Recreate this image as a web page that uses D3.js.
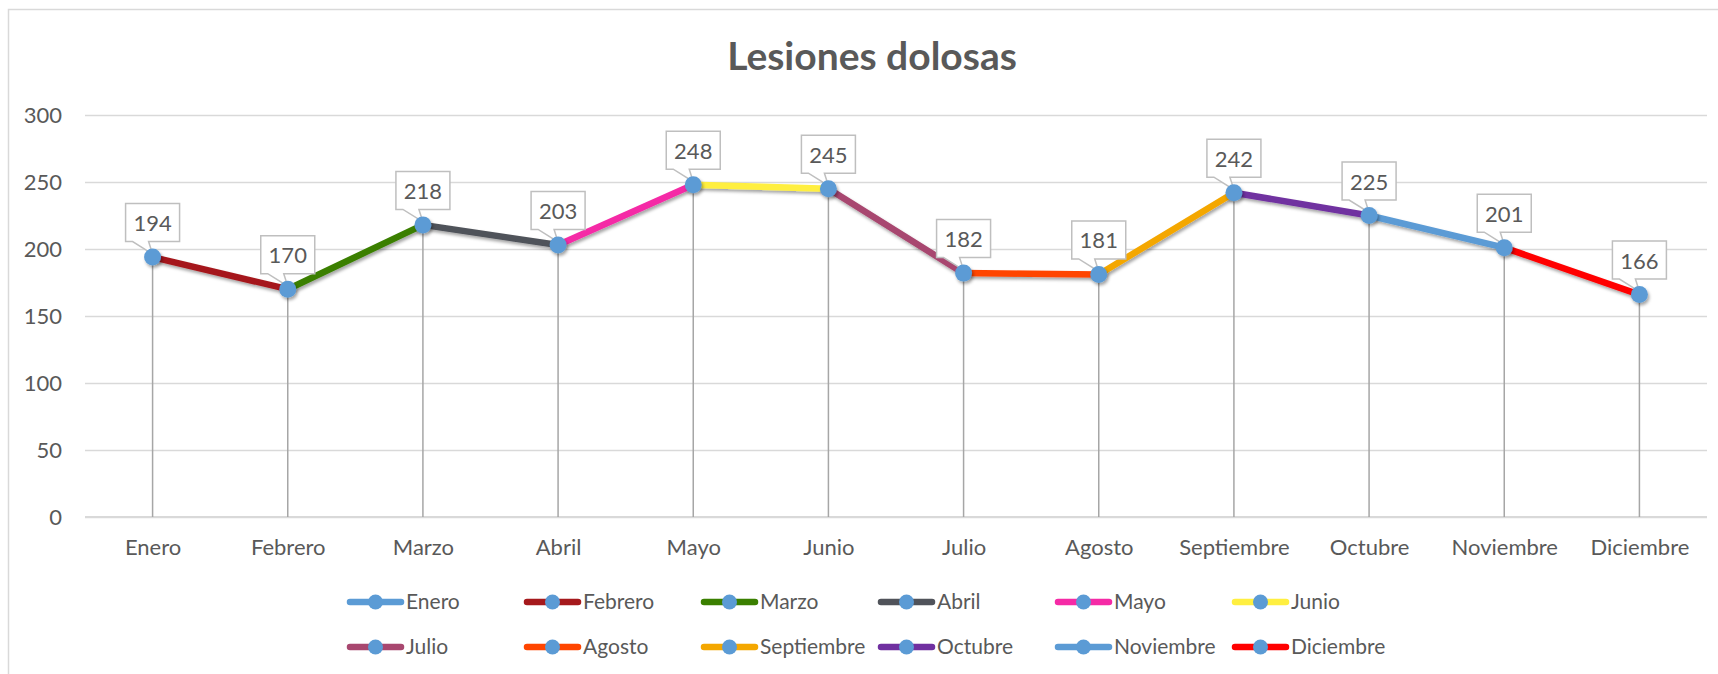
<!DOCTYPE html>
<html>
<head>
<meta charset="utf-8">
<script src="https://cdn.jsdelivr.net/npm/d3@7"></script>
<style>
    body { margin: 0; background: #fff; }
    text { font-family: Lato, "Noto Sans", sans-serif; fill: #595959; }
</style>
</head>
<body>
<div id="chart"></div>
<script>
var months = ["Enero", "Febrero", "Marzo", "Abril", "Mayo", "Junio",
    "Julio", "Agosto", "Septiembre", "Octubre", "Noviembre", "Diciembre"];
var values = [194, 170, 218, 203, 248, 245, 182, 181, 242, 225, 201, 166];
var seriesColors = ["#5B9BD5", "#A5191C", "#3A7F00", "#50535A", "#F52AA6", "#FFEF40",
    "#A8476F", "#FF4500", "#F4A700", "#7030A0", "#5B9BD5", "#FF0000"];
var yTicks = [0, 50, 100, 150, 200, 250, 300];
var chartTitle = "Lesiones dolosas";

var svgWidth = 1718;
var svgHeight = 674;

var margin = {
    top: 115,
    right: 11,
    bottom: 157,
    left: 85
};

var width = svgWidth - margin.left - margin.right;
var height = svgHeight - margin.top - margin.bottom;

var markerColor = "#5B9BD5";

var svg = d3.select("#chart")
    .append("svg")
    .attr("width", svgWidth)
    .attr("height", svgHeight);

var defs = svg.append("defs");
var shadow = defs.append("filter")
    .attr("id", "shadow")
    .attr("x", "-20%").attr("y", "-20%")
    .attr("width", "140%").attr("height", "160%");
shadow.append("feDropShadow")
    .attr("dx", 1.5)
    .attr("dy", 2.5)
    .attr("stdDeviation", 1.8)
    .attr("flood-color", "#000")
    .attr("flood-opacity", 0.35);

// outer chart border (only left and top visible in the picture)
svg.append("rect")
    .attr("x", 8.5)
    .attr("y", 9.5)
    .attr("width", 1760)
    .attr("height", 720)
    .attr("fill", "none")
    .attr("stroke", "#D9D9D9")
    .attr("stroke-width", 1.5);

svg.append("text")
    .attr("x", 872)
    .attr("y", 70)
    .attr("text-anchor", "middle")
    .attr("font-size", "39px")
    .attr("font-weight", "bold")
    .text(chartTitle);

var chartGroup = svg.append("g")
    .attr("transform", `translate(${margin.left}, ${margin.top})`);

var xScale = d3.scalePoint()
    .domain(months)
    .range([0, width])
    .padding(0.5);

var yScale = d3.scaleLinear()
    .domain([0, 300])
    .range([height, 0]);

var leftAxis = d3.axisLeft(yScale)
    .tickValues(yTicks)
    .tickSize(-width)
    .tickPadding(23);

var yAxis = chartGroup.append("g")
    .call(leftAxis);
yAxis.select(".domain").remove();
yAxis.selectAll("line")
    .attr("stroke", "#D9D9D9")
    .attr("stroke-width", 1.5);
yAxis.selectAll("text")
    .attr("font-size", "22px")
    .attr("fill", "#595959");

var bottomAxis = d3.axisBottom(xScale)
    .tickSize(0)
    .tickPadding(22);

var xAxis = chartGroup.append("g")
    .attr("transform", `translate(0, ${height})`)
    .call(bottomAxis);
xAxis.select(".domain")
    .attr("stroke", "#D9D9D9")
    .attr("stroke-width", 2)
    .attr("d", `M0,0H${width}`);
xAxis.selectAll("text")
    .attr("font-size", "22px")
    .attr("fill", "#595959");

var points = months.map(function (m, i) {
    return { month: m, value: values[i], color: seriesColors[i], prev: i > 0 ? i - 1 : null };
});

// drop lines
chartGroup.selectAll(".drop")
    .data(points)
    .enter()
    .append("line")
    .attr("class", "drop")
    .attr("x1", d => xScale(d.month))
    .attr("x2", d => xScale(d.month))
    .attr("y1", d => yScale(d.value))
    .attr("y2", height)
    .attr("stroke", "#A6A6A6")
    .attr("stroke-width", 1.5);

// each month's series draws the segment arriving at it
var segments = points.filter(d => d.prev !== null);

chartGroup.append("g")
    .attr("filter", "url(#shadow)")
    .selectAll(".seg")
    .data(segments)
    .enter()
    .append("line")
    .attr("class", "seg")
    .attr("x1", d => xScale(months[d.prev]))
    .attr("y1", d => yScale(values[d.prev]))
    .attr("x2", d => xScale(d.month))
    .attr("y2", d => yScale(d.value))
    .attr("stroke", d => d.color)
    .attr("stroke-width", 6.5)
    .attr("stroke-linecap", "round");

// data labels with callout
var boxW = 54;
var boxH = 38;
var boxGap = 15.5;

var labels = chartGroup.selectAll(".lbl")
    .data(points)
    .enter()
    .append("g")
    .attr("class", "lbl");

labels.append("path")
    .attr("d", function (d) {
        var cx = xScale(d.month);
        var cy = yScale(d.value);
        var left = cx - boxW / 2;
        var right = cx + boxW / 2;
        var bottom = cy - boxGap;
        var top = bottom - boxH;
        return `M${left},${top}H${right}V${bottom}H${left + 23}L${cx},${cy - 3}L${left + 7},${bottom}H${left}Z`;
    })
    .attr("fill", "#fff")
    .attr("stroke", "#BFBFBF")
    .attr("stroke-width", 1.5);

labels.append("text")
    .attr("x", d => xScale(d.month))
    .attr("y", d => yScale(d.value) - boxGap - 10.5)
    .attr("text-anchor", "middle")
    .attr("font-size", "22px")
    .attr("fill", "#404040")
    .text(d => d.value);

chartGroup.append("g")
    .attr("filter", "url(#shadow)")
    .selectAll("circle")
    .data(points)
    .enter()
    .append("circle")
    .attr("cx", d => xScale(d.month))
    .attr("cy", d => yScale(d.value))
    .attr("r", 8.5)
    .attr("fill", markerColor);

// legend, two rows of six
var legend = svg.append("g");

var legendItems = legend.selectAll(".leg")
    .data(points)
    .enter()
    .append("g")
    .attr("class", "leg")
    .attr("transform", (d, i) => `translate(${347 + (i % 6) * 177}, ${602 + Math.floor(i / 6) * 45})`);

legendItems.append("line")
    .attr("x1", 3)
    .attr("x2", 54)
    .attr("y1", 0)
    .attr("y2", 0)
    .attr("stroke", d => d.color)
    .attr("stroke-width", 6.5)
    .attr("stroke-linecap", "round");

legendItems.append("circle")
    .attr("cx", 28.5)
    .attr("cy", 0)
    .attr("r", 7.5)
    .attr("fill", markerColor);

legendItems.append("text")
    .attr("x", 59)
    .attr("y", 0)
    .attr("dy", "0.35em")
    .attr("font-size", "21px")
    .text(d => d.month);
</script>
</body>
</html>
